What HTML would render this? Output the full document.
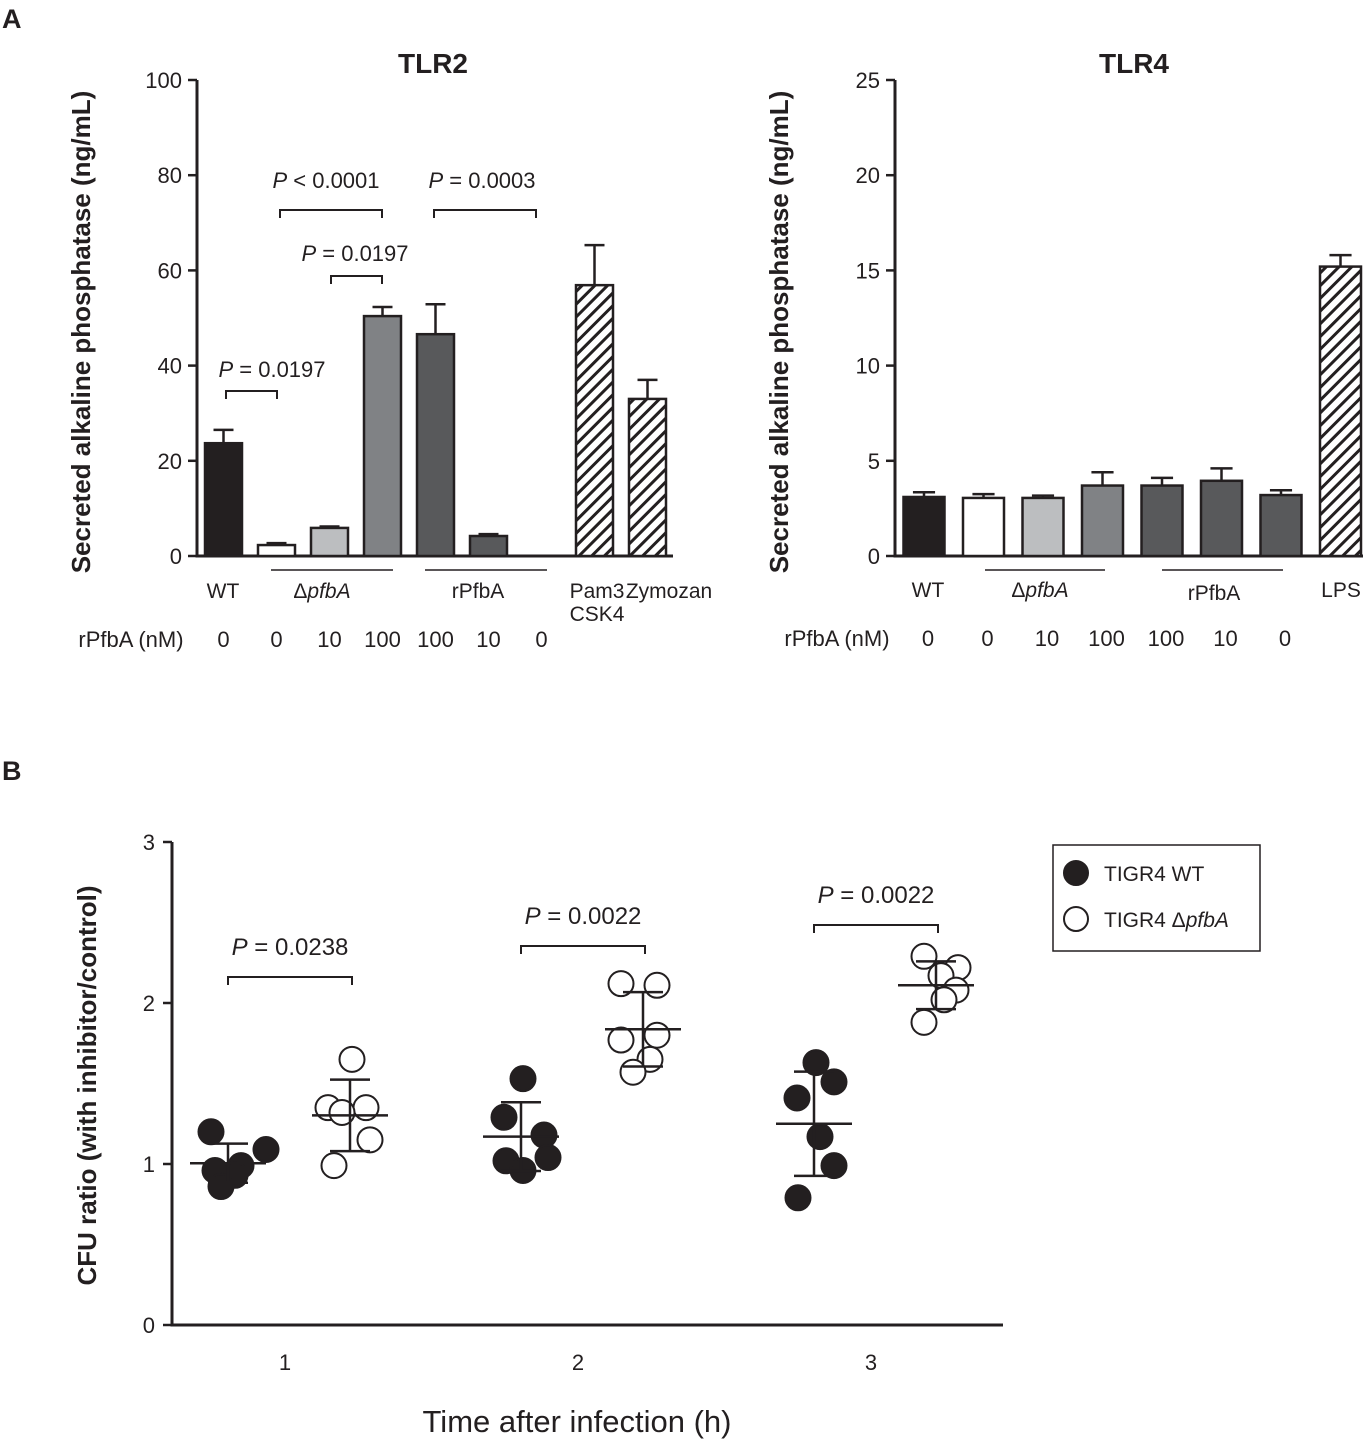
<!DOCTYPE html>
<html><head><meta charset="utf-8"><style>
html,body{margin:0;padding:0;background:#fff}
svg{display:block;font-family:"Liberation Sans",Arial,sans-serif}
</style></head><body>
<svg id="fig" width="1372" height="1445" viewBox="0 0 1372 1445">
<defs>
<pattern id="hatch" patternUnits="userSpaceOnUse" width="9" height="9" patternTransform="rotate(45)">
<rect width="9" height="9" fill="#fff"/><rect x="0" y="0" width="3" height="9" fill="#231f20"/>
</pattern>
</defs>
<g id="A"></g>
<g id="B"></g>
</svg>
<script>
// ---- Panel A data ----
const tlr2Cats = ["WT-0","dpfbA-0","dpfbA-10","dpfbA-100","rPfbA-100","rPfbA-10","rPfbA-0","Pam3CSK4","Zymozan"];
const tlr2Vals = [23.7, 2.3, 5.9, 50.4, 46.6, 4.2, 0, 56.9, 33.0];
const tlr2Errs = [2.8, 0.4, 0.3, 1.9, 6.3, 0.4, 0, 8.4, 4.0];
const tlr2Ticks = [0,20,40,60,80,100];
const tlr4Cats = ["WT-0","dpfbA-0","dpfbA-10","dpfbA-100","rPfbA-100","rPfbA-10","rPfbA-0","LPS"];
const tlr4Vals = [3.1, 3.05, 3.05, 3.7, 3.7, 3.95, 3.2, 15.2];
const tlr4Errs = [0.25, 0.2, 0.12, 0.7, 0.4, 0.65, 0.25, 0.6];
const tlr4Ticks = [0,5,10,15,20,25];
const fills2 = ["#231f20","#ffffff","#bcbec0","#808285","#58595b","#58595b","#58595b","url(#hatch)","url(#hatch)"];
const fills4 = ["#231f20","#ffffff","#bcbec0","#808285","#58595b","#58595b","#58595b","url(#hatch)"];
// ---- Panel B data ----
const bTimes = [1,2,3];
const bTicks = [0,1,2,3];
const wtPts = [[1.20,1.09,0.99,0.96,0.93,0.86],[1.53,1.29,1.18,1.02,1.04,0.96],[1.63,1.51,1.41,1.17,0.99,0.79]];
const wtDx = [[-17,38,13,-13,7,-7],[2,-17,23,-15,27,2],[2,20,-17,6,20,-16]];
const koPts = [[1.65,1.35,1.35,1.15,1.32,0.99],[2.12,2.11,1.77,1.80,1.65,1.57],[2.29,2.22,2.17,2.08,2.02,1.88]];
const koDx = [[2,-22,16,20,-8,-16],[-22,14,-22,14,7,-10],[-12,22,5,20,8,-12]];
const pLabels = ["0.0238","0.0022","0.0022"];
const bracketY = [977, 946, 925];

const NS="http://www.w3.org/2000/svg";
function mk(parent,tag,attrs,text){const e=document.createElementNS(NS,tag);for(const k in attrs)e.setAttribute(k,attrs[k]);if(text!==undefined)e.textContent=text;parent.appendChild(e);return e;}
const A=document.getElementById('A'), B=document.getElementById('B');
const blk="#231f20";

function pText(g,x,y,val,size){const t=mk(g,'text',{x:x,y:y,'font-size':size,'text-anchor':'middle',fill:blk});
 const i=document.createElementNS(NS,'tspan');i.setAttribute('font-style','italic');i.textContent='P';t.appendChild(i);
 t.appendChild(document.createTextNode(' '+val));
 
 return t;}
function bracket(g,x1,x2,y){const p=mk(g,'path',{d:`M${x1},${y+8}V${y}H${x2}V${y+8}`,fill:'none',stroke:blk,'stroke-width':2});
 
 }

function barChart(g,o){
 const y=v=>o.y0-(v/o.max)*(o.y0-o.yTop);
 const x=i=>o.xc0+i*o.step;
 const ax=mk(g,'path',{d:`M${o.ax},${o.yTop}V${o.y0}H${o.axEnd}`,fill:'none',stroke:blk,'stroke-width':3});
 
 
 o.ticks.forEach(t=>{
  const l=mk(g,'line',{x1:o.ax-9,x2:o.ax,y1:y(t),y2:y(t),stroke:blk,'stroke-width':2.5});
  
  
  const tx=mk(g,'text',{x:o.ax-15,y:y(t)+8,'font-size':22,'text-anchor':'end',fill:blk},t);
  
  
 });
 o.vals.forEach((v,i)=>{
  if(v<=0)return;
  const cx=x(i), w=o.bw;
  if(o.errs[i]>0){
   const e=mk(g,'path',{d:`M${cx},${y(v)}V${y(v+o.errs[i])}M${cx-w*0.27},${y(v+o.errs[i])}H${cx+w*0.27}`,stroke:blk,'stroke-width':2.5,fill:'none'});
   
   
  }
  const r=mk(g,'rect',{x:cx-w/2,y:y(v),width:w,height:o.y0-y(v),fill:o.fills[i],stroke:blk,'stroke-width':2.5});
  
  
 });
 const title=mk(g,'text',{x:o.titleX,y:73,'font-size':28,'font-weight':'bold','text-anchor':'middle',fill:blk},o.title);
 
 
 const yt=mk(g,'text',{x:0,y:0,'font-size':26,'font-weight':'bold','text-anchor':'middle',fill:blk,transform:`translate(${o.ax-107},${(o.yTop+o.y0)/2+14}) rotate(-90)`},'Secreted alkaline phosphatase (ng/mL)');
 
 
 return {x,y};
}

const s2=barChart(A,{ax:197,axEnd:673,y0:556,yTop:80,max:100,xc0:223.5,step:53,bw:37,vals:tlr2Vals,errs:tlr2Errs,fills:fills2,cats:tlr2Cats,ticks:tlr2Ticks,title:'TLR2',titleX:433});
const s4=barChart(A,{ax:895,axEnd:1363,y0:556,yTop:80,max:25,xc0:924,step:59.5,bw:41,vals:tlr4Vals,errs:tlr4Errs,fills:fills4,cats:tlr4Cats,ticks:tlr4Ticks,title:'TLR4',titleX:1134});

const lab=(x,y,t,s,extra)=>{const e=mk(A,'text',Object.assign({x:x,y:y,'font-size':s||21,'text-anchor':'middle',fill:blk},extra||{}),t);return e;};
const pa=mk(A,'text',{x:2,y:28,'font-size':27,'font-weight':'bold',fill:blk},'A');


const pb=mk(A,'text',{x:2,y:780,'font-size':27,'font-weight':'bold',fill:blk},'B');


function delta(x,y){const t=mk(A,'text',{x:x,y:y,'font-size':21,'text-anchor':'middle',fill:blk},'Δ');const i=document.createElementNS(NS,'tspan');i.setAttribute('font-style','italic');i.textContent='pfbA';t.appendChild(i);}
lab(223,598,'WT');delta(322,598);lab(478,598,'rPfbA');
lab(597,598,'Pam3');lab(597,621,'CSK4');lab(669,598,'Zymozan');
[[271,393],[425,547]].forEach(s=>{const l=mk(A,'line',{x1:s[0],x2:s[1],y1:570,y2:570,stroke:blk,'stroke-width':1.5});});
lab(131,647,'rPfbA (nM)',22);
const conc=['0','0','10','100','100','10','0'];
conc.forEach((c,i)=>lab(s2.x(i),647,c,22));
pText(A,272,377,'= 0.0197',22);bracket(A,226,277,391);
pText(A,326,188,'< 0.0001',22);bracket(A,280,382,210);
pText(A,355,261,'= 0.0197',22);bracket(A,331,382,276);
pText(A,482,188,'= 0.0003',22);bracket(A,434,536,210);
lab(928,597,'WT');delta(1040,597);lab(1214,600,'rPfbA');lab(1341,597,'LPS');
[[985,1105],[1162,1283]].forEach(s=>{const l=mk(A,'line',{x1:s[0],x2:s[1],y1:570,y2:570,stroke:blk,'stroke-width':1.5});});
lab(837,646,'rPfbA (nM)',22);
conc.forEach((c,i)=>lab(s4.x(i)+4,646,c,22));

// ---- Panel B ----
const bx0=172,bxEnd=1003,by0=1325,byTop=842;
const by=v=>by0-(v/3)*(by0-byTop);
const bxc=t=>285+(t-1)*293;
const bax=mk(B,'path',{d:`M${bx0},${byTop}V${by0}H${bxEnd}`,fill:'none',stroke:blk,'stroke-width':3});


bTicks.forEach(t=>{
 const l=mk(B,'line',{x1:bx0-9,x2:bx0,y1:by(t),y2:by(t),stroke:blk,'stroke-width':2.5});
 
 
 const tx=mk(B,'text',{x:bx0-17,y:by(t)+8,'font-size':22,'text-anchor':'end',fill:blk},t);
 
 
});
bTimes.forEach(t=>{
 const tx=mk(B,'text',{x:bxc(t),y:1370,'font-size':22,'text-anchor':'middle',fill:blk},t);
 
 
});
const xt=mk(B,'text',{x:577,y:1432,'font-size':31,'text-anchor':'middle',fill:blk},'Time after infection (h)');


const byt=mk(B,'text',{x:0,y:0,'font-size':26,'font-weight':'bold','text-anchor':'middle',fill:blk,transform:`translate(96,${(byTop+by0)/2+2}) rotate(-90)`},'CFU ratio (with inhibitor/control)');



function stats(a){const m=a.reduce((s,v)=>s+v,0)/a.length;const sd=Math.sqrt(a.reduce((s,v)=>s+(v-m)*(v-m),0)/(a.length-1));return [m,sd];}
function group(pts,dx,cx,filled){
 pts.forEach((v,i)=>{
  const c=mk(B,'circle',{cx:cx+dx[i],cy:by(v),r:12.5,fill:filled?blk:'#fff',stroke:blk,'stroke-width':2});
  
  
 });
 const [m,sd]=stats(pts);
 const e=mk(B,'path',{d:`M${cx-38},${by(m)}H${cx+38}M${cx},${by(m+sd)}V${by(m-sd)}M${cx-20},${by(m+sd)}H${cx+20}M${cx-20},${by(m-sd)}H${cx+20}`,stroke:blk,'stroke-width':2.5,fill:'none'});
 
 
}
bTimes.forEach((t,k)=>{
 group(wtPts[k],wtDx[k],bxc(t)-57,true);
 group(koPts[k],koDx[k],bxc(t)+65,false);
 const yb=bracketY[k];
 bracket(B,bxc(t)-57,bxc(t)+67,yb);
 pText(B,bxc(t)+5,yb-22,'= '+pLabels[k],24);
});
const lg=mk(B,'rect',{x:1053,y:845,width:207,height:106,fill:'#fff',stroke:blk,'stroke-width':1.5});


const l1=mk(B,'circle',{cx:1076,cy:873,r:12,fill:blk,stroke:blk,'stroke-width':2});


const t1=mk(B,'text',{x:1104,y:881,'font-size':21,fill:blk},'TIGR4 WT');


const l2=mk(B,'circle',{cx:1076,cy:919,r:12,fill:'#fff',stroke:blk,'stroke-width':2});


const t2=mk(B,'text',{x:1104,y:927,'font-size':21,fill:blk},'TIGR4 Δ');
const ti=document.createElementNS(NS,'tspan');ti.setAttribute('font-style','italic');ti.textContent='pfbA';t2.appendChild(ti);


</script>
</body></html>
